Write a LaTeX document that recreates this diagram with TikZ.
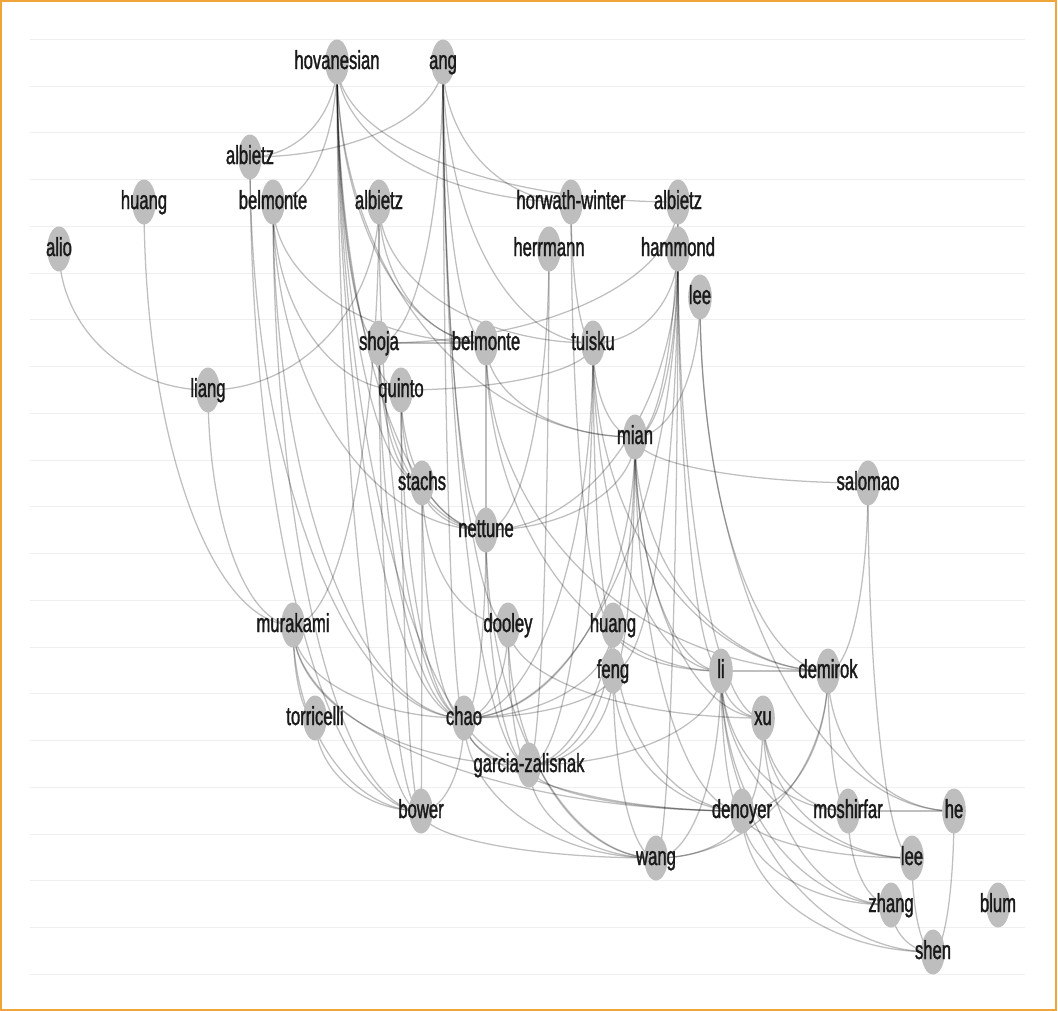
\documentclass[tikz,border=0pt]{standalone}
\usepackage{fontspec}
\newfontfamily\lblfont[FakeStretch=0.64,FakeBold=1.3]{Liberation Sans}
\usetikzlibrary{calc}
\pgfdeclarelayer{bg}\pgfdeclarelayer{ell}
\pgfsetlayers{bg,ell,main}
\definecolor{frameor}{HTML}{F0A53A}
\definecolor{gridc}{HTML}{EFEFEF}
\definecolor{nodec}{HTML}{BEBEBE}
\definecolor{txt}{HTML}{1A1A1A}
\tikzset{
  edge/.style={draw=black, draw opacity=0.25, line width=0.95pt},
  lbl/.style={font=\lblfont\fontsize{19.5}{20}\selectfont, text=txt, inner sep=0pt, anchor=base},
  blob/.style={fill=nodec},
  gridline/.style={draw=gridc, line width=0.8pt},
  frame/.style={draw=frameor, line width=1.6pt}
}
% name, x, y, label
\newcommand\mknode[4]{%
  \coordinate (#1) at (#2,#3);
  \begin{pgfonlayer}{ell}\fill[blob] (#1) ellipse [x radius=11.8, y radius=22.5];\end{pgfonlayer}
  \node[lbl] (#1t) at ($(#1)+(0,7)$) {#4};}
% quarter-ellipse link: vertical at upper node #1, horizontal at lower node #2
\newcommand\edgU[2]{\draw[edge] (#1) .. controls ($(#1)!0.5523!(#1|-#2)$) and ($(#2)!0.5523!(#1|-#2)$) .. (#2);}
\begin{document}
\begin{tikzpicture}[x=0.75pt,y=-0.75pt]
\useasboundingbox (0,0) rectangle (1058,1011);
\begin{pgfonlayer}{bg}
  \fill[white] (0,0) rectangle (1058,1011);
  \foreach \k in {0,...,20} {\draw[gridline] (30,39.3+46.75*\k) -- (1025,39.3+46.75*\k);}
  \draw[frame] (1,1) rectangle (1056,1010);
\end{pgfonlayer}
\mknode{hov}{337}{62}{hovanesian}
\mknode{ang}{443}{62}{ang}
\mknode{alb1}{250}{157}{albietz}
\mknode{hua1}{144}{202}{huang}
\mknode{bel1}{273}{202}{belmonte}
\mknode{alb2}{379}{202}{albietz}
\mknode{hor}{571}{202}{horwath-winter}
\mknode{alb3}{678}{202}{albietz}
\mknode{alio}{59}{249}{alio}
\mknode{her}{549}{249}{herrmann}
\mknode{ham}{678}{249}{hammond}
\mknode{lee1}{700}{297}{lee}
\mknode{sho}{379}{343}{shoja}
\mknode{bel2}{486}{343}{belmonte}
\mknode{tui}{593}{343}{tuisku}
\mknode{lia}{208}{390}{liang}
\mknode{qui}{401}{390}{quinto}
\mknode{mia}{635}{437}{mian}
\mknode{sta}{422}{483}{stachs}
\mknode{sal}{868}{483}{salomao}
\mknode{net}{486}{530}{nettune}
\mknode{mur}{293}{625}{murakami}
\mknode{doo}{508}{625}{dooley}
\mknode{hua2}{613}{625}{huang}
\mknode{fen}{613}{671}{feng}
\mknode{li}{721}{671}{li}
\mknode{dem}{828}{671}{demirok}
\mknode{tor}{315}{718}{torricelli}
\mknode{cha}{464}{718}{chao}
\mknode{xu}{763}{718}{xu}
\mknode{gar}{529}{765}{garcia-zalisnak}
\mknode{bow}{421}{811}{bower}
\mknode{den}{742}{811}{denoyer}
\mknode{mos}{848}{811}{moshirfar}
\mknode{he}{954}{811}{he}
\mknode{wan}{656}{858}{wang}
\mknode{lee2}{912}{858}{lee}
\mknode{zha}{891}{905}{zhang}
\mknode{blu}{998}{905}{blum}
\mknode{she}{933}{952}{shen}
\begin{pgfonlayer}{bg}
  \foreach \a/\b in {
    hov/alb1, hov/bel1, hov/hor, hov/alb3, hov/sho, hov/bel2, hov/qui, hov/sta, hov/cha, hov/bow, hov/mia, hov/net, hov/gar,
    ang/alb1, ang/hor, ang/sho, ang/bel2, ang/tui, ang/net, ang/cha, ang/doo, ang/gar,
    alb1/cha, alb1/bow,
    hua1/mur,
    bel1/bel2, bel1/qui, bel1/net, bel1/cha, bel1/bow,
    alb2/lia, alb2/tui, alb2/bel2, alb2/cha, alb2/mur,
    hor/tui, hor/hua2,
    alb3/ham, alb3/sho, alb3/mia,
    alio/lia,
    her/net, her/gar,
    ham/tui, ham/mia, ham/net, ham/cha, ham/fen, ham/li, ham/wan, ham/xu,
    lee1/mia, lee1/dem, lee1/he,
    sho/bel2, sho/sta, sho/net, sho/bow, sho/cha,
    bel2/mia, bel2/net, bel2/li, bel2/dem,
    tui/qui, tui/mia, tui/cha, tui/hua2, tui/li, tui/dem, tui/gar,
    lia/mur,
    qui/sta, qui/net, qui/bow, qui/cha,
    mia/sal, mia/net, mia/cha, mia/gar, mia/fen, mia/li, mia/xu, mia/den, mia/dem,
    sta/net, sta/doo, sta/bow, sta/cha,
    sal/dem, sal/lee2,
    net/cha, net/gar, net/wan,
    mur/tor, mur/cha, mur/gar, mur/bow, mur/den,
    doo/gar, doo/xu, doo/cha, doo/wan,
    hua2/cha, hua2/li, hua2/gar, hua2/den,
    fen/gar, fen/cha, fen/den, fen/wan,
    li/xu, li/gar, li/wan, li/den, li/mos, li/lee2, li/zha, li/she, li/dem,
    dem/mos, dem/he, dem/wan, dem/den,
    tor/bow,
    cha/gar, cha/bow, cha/wan, cha/den,
    xu/den, xu/mos, xu/lee2, xu/zha,
    gar/wan, gar/den,
    bow/wan,
    den/wan, den/lee2, den/zha, den/she,
    mos/he, mos/zha,
    he/she, lee2/she, zha/she}
    {\edgU{\a}{\b}}
\end{pgfonlayer}
\end{tikzpicture}
\end{document}
